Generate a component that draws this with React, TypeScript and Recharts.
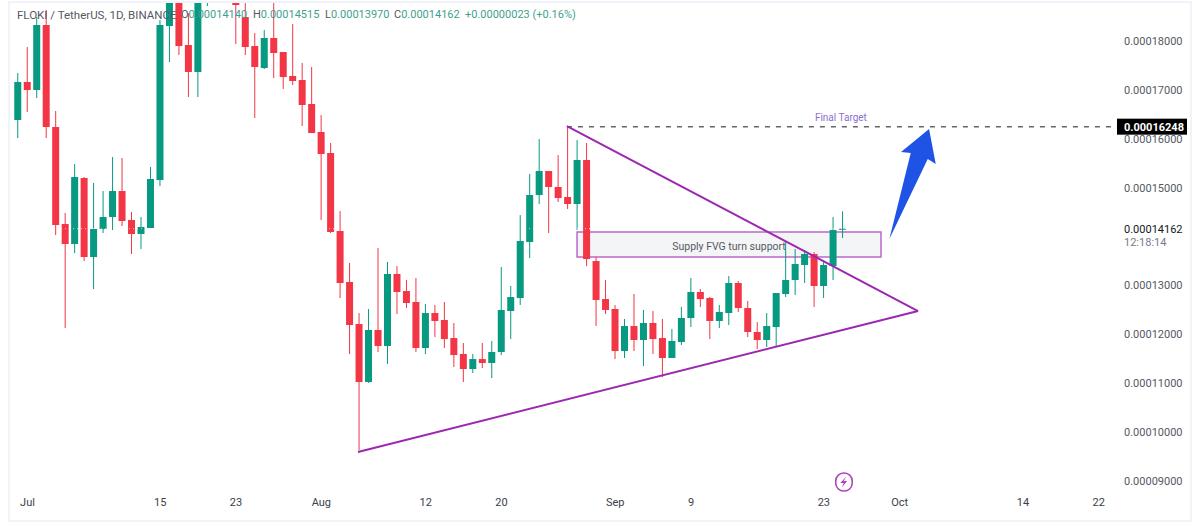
import { Bar, ComposedChart, ReferenceArea, ReferenceDot, ReferenceLine, XAxis, YAxis } from "recharts";

// prices are in units of 0.00000001 USDT, candle 0 is 30 Jun
const opens = [
  16384, 17161, 16998, 18327, 16241, 14257, 13848, 15198, 13582, 14155, 14400, 14932, 14339, 14053, 14175, 15157,
  18306, 19200, 17918, 17366, 19050, 19700, 19450, 19150, 18490, 17897, 17447, 18061, 17775, 17284, 17202, 16711,
  16139, 15709, 14114, 13071, 12212, 11026, 12090, 11762, 13235, 12887, 12662, 11721, 12437, 12294, 11926, 11599,
  11292, 11496, 11415, 11640, 12478, 12744, 13889, 14850, 15341, 15014, 14809, 14666, 15566, 13500, 12723, 12519,
  11660, 12171, 11885, 12233, 11926, 11517, 11844, 12335, 12867, 12744, 12274, 12437, 13051, 12539, 12049, 11885,
  12151, 12826, 13112, 13419, 13644, 12989, 13398, 14140,
];
const highs = [
  17345, 17877, 18490, 18634, 16568, 14482, 15484, 15218, 15096, 14932, 15627, 15607, 14503, 14400, 15423, 18429,
  19500, 19400, 18572, 19300, 19600, 19900, 19600, 19300, 18797, 18163, 18225, 18797, 17775, 18347, 17550, 17468,
  16486, 15914, 14523, 13460, 12437, 12519, 13766, 13480, 13398, 13112, 13153, 12621, 12601, 12662, 12233, 11824,
  11599, 11824, 11865, 13378, 12989, 14441, 15280, 15995, 15341, 15668, 16261, 15975, 15914, 13582, 13112, 12601,
  12315, 12826, 12499, 12478, 12315, 12110, 12560, 13153, 12928, 12764, 12601, 13194, 13092, 12683, 12253, 12437,
  12846, 13910, 13746, 13726, 13685, 13521, 14400, 14515,
];
const lows = [
  16016, 16548, 16834, 16016, 14032, 12130, 13664, 13500, 12928, 14073, 14134, 14216, 13644, 13746, 14175, 15034,
  17570, 17713, 16854, 16854, 18715, 19000, 18950, 17938, 17713, 16425, 17427, 17243, 17018, 17100, 16261, 16118,
  14339, 14073, 12744, 11599, 9630, 11006, 11640, 11394, 12417, 12539, 11640, 11599, 11946, 11721, 11333, 11026,
  11210, 11312, 11108, 11578, 11905, 12601, 13562, 14666, 14073, 14707, 14564, 14134, 13398, 12171, 12417, 11496,
  11517, 11660, 11353, 11599, 11128, 11517, 11783, 12151, 12560, 11905, 12130, 12192, 12458, 11946, 11701, 11742,
  11742, 12764, 12805, 13051, 12560, 12744, 13112, 13970,
];
const closes = [
  17161, 16998, 18327, 16241, 14237, 13848, 15218, 13582, 14155, 14400, 14932, 14319, 14053, 14196, 15178, 18327,
  19200, 17897, 17366, 19100, 19400, 19300, 19150, 18736, 17877, 17468, 18061, 17754, 17263, 17182, 16691, 16118,
  15689, 14094, 13051, 12192, 11026, 12090, 11762, 13235, 12867, 12642, 11721, 12437, 12274, 11905, 11578, 11292,
  11496, 11415, 11640, 12499, 12764, 13910, 14850, 15341, 15014, 14789, 14666, 15566, 13541, 12703, 12499, 11660,
  12171, 11885, 12233, 11905, 11517, 11865, 12335, 12867, 12723, 12274, 12458, 13051, 12539, 12049, 11885, 12171,
  12846, 13112, 13439, 13644, 12989, 13419, 14134, 14162,
];

const priceTicks = [9000, 10000, 11000, 12000, 13000, 15000, 16000, 17000, 18000];
const lastPrice = 14162;
const targetPrice = 16248;
const countdown = "12:18:14";
const dayTicks = [1, 15, 23, 32, 43, 51, 63, 71, 85, 93, 106, 114];
const dayLabels = ["Jul", "15", "23", "Aug", "12", "20", "Sep", "9", "23", "Oct", "14", "22"];
const ohlcLabels = ["O", "H", "L", "C"];
const ohlcValues = ["0.00014140", "0.00014515", "0.00013970", "0.00014162"];
const ohlcLefts = [181, 253, 325, 394];

const data = opens.map((open, i) => ({
  day: i,
  open,
  close: closes[i],
  range: [lows[i], highs[i]],
}));

const UP = "#089981";
const DOWN = "#F23645";
const PURPLE = "#9c27b0";
const FONT = "Roboto, 'Liberation Sans', sans-serif";
const GREY = "#555963";

const fmt = (v: number) => (v / 1e8).toFixed(8);

function Candle(props: any) {
  const { x, y, width, height, payload } = props;
  const [low, high] = payload.range;
  const k = height / (high - low);
  const top = y + (high - Math.max(payload.open, payload.close)) * k;
  const bottom = y + (high - Math.min(payload.open, payload.close)) * k;
  const color = payload.close >= payload.open ? UP : DOWN;
  const mid = x + width / 2;
  return (
    <g>
      <line x1={mid} x2={mid} y1={y} y2={y + height} stroke={color} strokeWidth={1} />
      <rect x={x} y={top} width={width} height={Math.max(bottom - top, 1)} fill={color} />
    </g>
  );
}

function PriceTick(props: any) {
  const { x, y, payload } = props;
  const v = payload.value;
  if (v === targetPrice) {
    return (
      <g>
        <rect x={x - 7} y={y - 8} width={70} height={16} fill="#000" />
        <text x={x} y={y + 4} fontSize={11} fontWeight={700} fill="#fff" fontFamily={FONT}>{fmt(v)}</text>
      </g>
    );
  }
  if (v === lastPrice) {
    return (
      <g fontFamily={FONT}>
        <text x={x} y={y + 4} fontSize={11} fill="#131722">{fmt(v)}</text>
        <text x={x} y={y + 17} fontSize={11} fill="#787b86">{countdown}</text>
      </g>
    );
  }
  return <text x={x} y={y + 4} fontSize={11} fill={GREY} fontFamily={FONT}>{fmt(v)}</text>;
}

function DayTick(props: any) {
  const { x, y, payload } = props;
  const label = dayLabels[dayTicks.indexOf(payload.value)];
  return <text x={x} y={y + 4} textAnchor="middle" fontSize={11} fill="#3a3e4a" fontFamily={FONT}>{label}</text>;
}

// blue arrow, offsets from its tip
function Arrow(props: any) {
  const { cx, cy } = props;
  const pts = [[0, 0], [6.7, 35], [-1.3, 30], [-39.7, 110], [-18.3, 24], [-28, 23]];
  return <polygon points={pts.map(([a, b]) => `${cx + a},${cy + b}`).join(" ")} fill="#1e53e5" />;
}

function Bolt(props: any) {
  const { cx, cy } = props;
  return (
    <g>
      <rect x={cx - 8} y={cy - 9} width={16.5} height={18} rx={8} fill="#fff" stroke="#ab47bc" strokeWidth={1.6} />
      <path d={`M${cx + 2.5} ${cy - 5.5}L${cx - 3.5} ${cy + 1}H${cx}L${cx - 2} ${cy + 5.5}L${cx + 3.5} ${cy - 1}H${cx}Z`} fill="#ab47bc" />
    </g>
  );
}

export default function App() {
  return (
    <div style={{ position: "absolute", left: 0, top: 0, width: 1200, height: 524, background: "#fff" }}>
      <div style={{ position: "absolute", left: 8, top: 1, width: 1180, height: 517, border: "2px solid #f0f3fa" }} />
      <ComposedChart
        width={1200}
        height={524}
        data={data}
        margin={{ top: 3, right: 0, bottom: 0, left: 10 }}
        style={{ position: "absolute", left: 0, top: 0 }}
      >
        <XAxis
          dataKey="day"
          type="number"
          domain={[-0.844, 116.03]}
          allowDataOverflow
          ticks={dayTicks}
          interval={0}
          height={32}
          axisLine={false}
          tickLine={false}
          tickSize={0}
          tickMargin={10}
          tick={<DayTick />}
        />
        <YAxis
          orientation="right"
          domain={[8777, 18777]}
          allowDataOverflow
          ticks={[...priceTicks, lastPrice, targetPrice]}
          interval={0}
          width={82}
          axisLine={false}
          tickLine={false}
          tickSize={0}
          tickMargin={6}
          tick={<PriceTick />}
        />
        <ReferenceArea
          x1={58.97}
          x2={91.03}
          y1={13582}
          y2={14094}
          fill="#787b86"
          fillOpacity={0.08}
          stroke="#ba68c8"
          strokeWidth={1.5}
          strokeOpacity={1}
        />
        <Bar dataKey="range" barSize={7} shape={<Candle />} isAnimationActive={false} />
        <ReferenceLine y={lastPrice} stroke="#fff" strokeOpacity={0.7} strokeDasharray="1 3" />
        <ReferenceDot x={75} y={13810} r={0} stroke="none" label={{ value: "Supply FVG turn support", fontSize: 10.5, fill: GREY, fontFamily: FONT }} />
        <ReferenceLine
          segment={[{ x: 57.9, y: targetPrice }, { x: 116.03, y: targetPrice }]}
          stroke="#666"
          strokeWidth={1.5}
          strokeDasharray="5 6"
        />
        <ReferenceDot x={86.8} y={16430} r={0} stroke="none" label={{ value: "Final Target", fontSize: 10, fill: "#8e6fd0", fontFamily: FONT }} />
        <ReferenceLine segment={[{ x: 57.9, y: 16261 }, { x: 94.94, y: 12478 }]} stroke={PURPLE} strokeWidth={2} />
        <ReferenceLine segment={[{ x: 35.86, y: 9595 }, { x: 94.94, y: 12478 }]} stroke={PURPLE} strokeWidth={2} />
        <ReferenceDot x={96.1} y={16200} r={0} shape={<Arrow />} />
        <ReferenceDot x={87.1} y={8980} r={0} shape={<Bolt />} />
      </ComposedChart>
      <div style={{ position: "absolute", left: 0, top: 8, width: 600, height: 16, fontFamily: FONT, fontSize: 11, whiteSpace: "pre", color: "#3f9f8f" }}>
        <span style={{ position: "absolute", left: 17, fontSize: 11.5, color: GREY }}>FLOKI / TetherUS, 1D, BINANCE</span>
        {ohlcLabels.map((label, i) => (
          <span key={label} style={{ position: "absolute", left: ohlcLefts[i] }}>
            <span style={{ color: GREY }}>{label}</span>
            {ohlcValues[i]}
          </span>
        ))}
        <span style={{ position: "absolute", left: 465 }}>+0.00000023 (+0.16%)</span>
      </div>
    </div>
  );
}
